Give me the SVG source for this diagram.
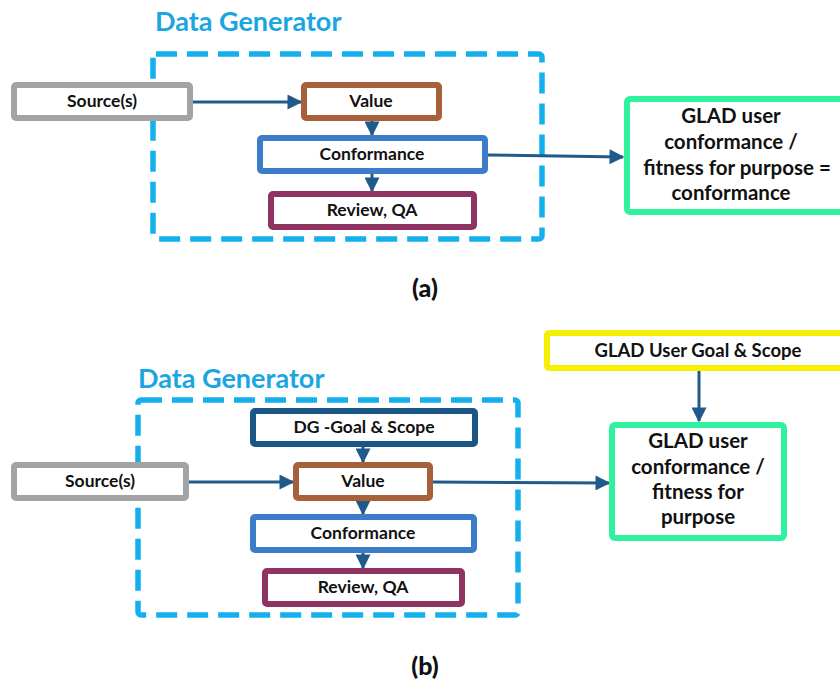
<svg xmlns="http://www.w3.org/2000/svg" width="840" height="682" viewBox="0 0 840 682">
<defs>
<marker id="ah" viewBox="0 0 10 10" refX="9" refY="5" markerWidth="5.5" markerHeight="5" orient="auto" markerUnits="strokeWidth">
<path d="M0,0 L10,5 L0,10 z" fill="#1f5a8a"/>
</marker>
<style>
.bx{fill:#fff;stroke-width:6;}
.t{font-family:Lato,"Open Sans","Liberation Sans",sans-serif;font-weight:700;font-size:17.5px;fill:#111;text-anchor:middle;}
.tu{font-size:18.5px;}
.tb{font-family:Lato,"Open Sans","Liberation Sans",sans-serif;font-weight:700;font-size:20.5px;fill:#111;text-anchor:middle;}
.title{font-family:Lato,"Open Sans","Liberation Sans",sans-serif;font-weight:700;font-size:27px;fill:#1aa6e2;}
.dash{fill:none;stroke:#14b0ee;stroke-width:5.5;stroke-dasharray:21 10;}
.cn{stroke:#1f5a8a;stroke-width:3;fill:none;marker-end:url(#ah);}
.cap{font-family:Lato,"Open Sans","Liberation Sans",sans-serif;font-weight:900;font-size:25px;fill:#111;text-anchor:middle;}
</style>
</defs>
<rect width="840" height="682" fill="#fff"/>

<!-- Panel (a) -->
<g id="dg-a">
<text class="title" x="155" y="31">Data Generator</text>
<rect class="dash" x="153" y="54" width="389" height="185" rx="3"/>
</g>
<g id="a-connectors">
<line class="cn" x1="193" y1="102" x2="301" y2="102"/>
<line class="cn" x1="372" y1="121" x2="372" y2="135"/>
<line class="cn" x1="372" y1="174" x2="372" y2="191"/>
<line class="cn" x1="488" y1="155" x2="623" y2="157"/>
</g>
<g id="a-source"><rect class="bx" x="14" y="85" width="176" height="33" rx="2" stroke="#a3a3a3"/><text class="t" x="102" y="107">Source(s)</text></g>
<g id="a-value"><rect class="bx" x="304" y="85" width="135" height="33" rx="2" stroke="#a8603a"/><text class="t" x="371" y="107">Value</text></g>
<g id="a-conformance"><rect class="bx" x="260" y="138" width="225" height="33" rx="2" stroke="#3b7dc9"/><text class="t" x="372" y="160">Conformance</text></g>
<g id="a-review"><rect class="bx" x="271" y="194" width="203" height="33" rx="2" stroke="#8f3362"/><text class="t" x="372" y="216">Review, QA</text></g>
<g id="a-glad"><rect class="bx" x="627" y="99" width="230" height="113" rx="3" stroke="#2ef29e"/>
<text class="tb" x="731" y="123">GLAD user</text>
<text class="tb" x="731" y="149">conformance /</text>
<text class="tb" x="737" y="175">fitness for purpose =</text>
<text class="tb" x="731" y="200">conformance</text></g>
<g id="cap-a"><text class="cap" x="425" y="297">(a)</text></g>

<!-- Panel (b) -->
<g id="dg-b">
<text class="title" x="138" y="388">Data Generator</text>
<rect class="dash" x="138" y="400" width="380" height="215" rx="3"/>
</g>
<g id="b-connectors">
<line class="cn" x1="363" y1="447" x2="363" y2="462"/>
<line class="cn" x1="189" y1="482" x2="293" y2="482"/>
<line class="cn" x1="433" y1="482" x2="609" y2="483"/>
<line class="cn" x1="363" y1="501" x2="363" y2="514"/>
<line class="cn" x1="363" y1="553" x2="363" y2="568"/>
<line class="cn" x1="699" y1="371" x2="699" y2="421"/>
</g>
<g id="b-goal"><rect class="bx" x="253" y="411" width="222" height="33" rx="2" stroke="#1b5784"/><text class="t" x="364" y="433">DG -Goal &amp; Scope</text></g>
<g id="b-source"><rect class="bx" x="14" y="465" width="172" height="33" rx="2" stroke="#a3a3a3"/><text class="t" x="100" y="487">Source(s)</text></g>
<g id="b-value"><rect class="bx" x="296" y="465" width="134" height="33" rx="2" stroke="#a8603a"/><text class="t" x="363" y="487">Value</text></g>
<g id="b-conformance"><rect class="bx" x="253" y="517" width="221" height="33" rx="2" stroke="#3b7dc9"/><text class="t" x="363" y="539">Conformance</text></g>
<g id="b-review"><rect class="bx" x="265" y="571" width="197" height="33" rx="2" stroke="#8f3362"/><text class="t" x="363" y="593">Review, QA</text></g>
<g id="b-usergoal"><rect class="bx" x="547" y="333" width="300" height="35" rx="2" stroke="#f5ef00"/><text class="t tu" x="698" y="357">GLAD User Goal &amp; Scope</text></g>
<g id="b-glad"><rect class="bx" x="612" y="425" width="172" height="113" rx="3" stroke="#2ef29e"/>
<text class="tb" x="698" y="448">GLAD user</text>
<text class="tb" x="698" y="474">conformance /</text>
<text class="tb" x="698" y="499">fitness for</text>
<text class="tb" x="698" y="524">purpose</text></g>
<g id="cap-b"><text class="cap" x="425" y="675">(b)</text></g>
</svg>
